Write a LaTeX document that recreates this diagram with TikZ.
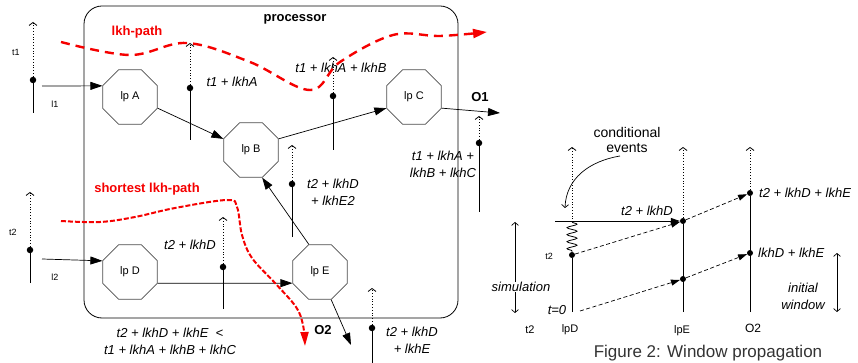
\documentclass[tikz,border=0pt]{standalone}
\usepackage{fontspec}
\setmainfont{Liberation Sans}
\usepackage{tikz}
\usetikzlibrary{arrows.meta}
\usetikzlibrary{shapes.geometric,positioning}
\usetikzlibrary{decorations.pathmorphing}
\definecolor{lkhred}{RGB}{245,0,0}

\begin{document}
\begin{tikzpicture}[x=1pt,y=-1pt,
    lp/.style={draw=black!70,line width=0.7pt,regular polygon,regular polygon sides=8,
      minimum size=59pt,inner sep=0pt,font=\fontsize{11}{13}\selectfont},
    evt/.style={circle,fill=black,inner sep=0pt,minimum size=6.5pt},
    flow/.style={line width=0.7pt,-{Triangle[length=12pt,width=8pt]}},
    msg/.style={line width=0.7pt,dash pattern=on 4pt off 2.5pt,-{Triangle[length=9pt,width=6pt]}},
    future/.style={dotted,line width=0.8pt,-{Straight Barb[length=3pt,width=8pt]}},
    past/.style={line width=0.8pt},
    spanarr/.style={line width=0.7pt,{Straight Barb[length=3pt,width=7pt]}-{Straight Barb[length=3pt,width=7pt]}},
    lkh/.style={lkhred,line width=2.4pt,dash pattern=on 9pt off 6pt,-{Triangle[length=14pt,width=9pt]}},
    lkhshort/.style={lkhred,line width=2pt,dash pattern=on 5pt off 2pt,-{Triangle[length=14pt,width=8pt]}},
    lbl/.style={font=\fontsize{13}{17}\selectfont\itshape,align=center,inner sep=1pt},
    hd/.style={font=\fontsize{13}{15}\selectfont\bfseries,inner sep=1pt},
    tinytxt/.style={font=\fontsize{9}{10}\selectfont,inner sep=1pt},
    tagtxt/.style={font=\fontsize{11}{13}\selectfont,inner sep=1pt}
  ]
  \useasboundingbox (0,0) rectangle (858,363);

  % 处理器框
  \node[draw,line width=0.8pt,rounded corners=18pt,minimum width=374pt,minimum height=312pt] (proc) at (271,162) {};
  \node[hd] (proctitle) at (295,19) {processor};

  % 逻辑进程
  \node[lp] (lpA) at (130,97) {lp A};
  \node[lp] (lpB) at (251,150) {lp B};
  \node[lp] (lpC) at (414,97) {lp C};
  \node[lp] (lpD) at (130,272) {lp D};
  \node[lp] (lpE) at (320,272) {lp E};

  % 时间轴 (虚线向上, 实线向下)
  \foreach \n/\x/\yt/\yd/\yb in {tA/33/22/80/113, tB/30/192/250/283, eA/190/43/88/140,
      eB/333/57/96/150, eC/479/116/143/212, eE/292/145/184/237, eD/223/217/267/309, eO/372/288/328/366} {
    \coordinate (\n top) at (\x,\yt);
    \coordinate (\n bot) at (\x,\yb);
    \node[evt] (\n) at (\x,\yd) {};
    \draw[future] (\n) -- (\n top);
    \draw[past] (\n bot) -- (\n);
  }

  % 连线
  \coordinate (in1) at (42,86);
  \coordinate (in2) at (42,259);
  \coordinate (out1) at (500,113);
  \coordinate (out2) at (351,345);
  \draw[flow] (in1) -- (lpA.158);
  \draw[flow] (in2) -- (lpD.158);
  \draw[flow] (lpA.-22) -- (lpB.158);
  \draw[flow] (lpB.22) -- (lpC.202);
  \draw[flow] (lpE.112) -- (lpB.-68);
  \draw[flow] (lpD.-22) -- (lpE.202);
  \draw[flow] (lpC.-22) -- (out1);
  \draw[flow] (lpE.-68) -- (out2);

  % 标注
  \node[tinytxt] (t1lab) at (16,52) {t1};
  \node[tinytxt] (t2lab) at (13,232) {t2};
  \node[tinytxt] (l1lab) at (55,104) {l1};
  \node[tinytxt] (l2lab) at (55,277) {l2};
  \node[lbl] (labA) at (232,82) {t1 + lkhA};
  \node[lbl] (labB) at (341,68) {t1 + lkhA + lkhB};
  \node[lbl] (labC) at (443,164) {t1 + lkhA +\\lkhB + lkhC};
  \node[lbl] (labE) at (333,192) {t2 + lkhD\\+ lkhE2};
  \node[lbl] (labD) at (190,245) {t2 + lkhD};
  \node[lbl] (labO) at (412,340) {t2 + lkhD\\+ lkhE};
  \node[lbl] (cmp) at (170,341) {t2 + lkhD + lkhE \ <\\t1 + lkhA + lkhB + lkhC};
  \node[hd] (o1lab) at (480,97) {O1};
  \node[hd] (o2lab) at (323,330) {O2};

  % 红色路径
  \node[hd,text=lkhred] (lkhlab) at (137,32) {lkh-path};
  \node[hd,text=lkhred] (shortlab) at (147,189) {shortest lkh-path};
  \draw[lkh] plot[smooth,tension=0.6] coordinates {(61,42) (130,55) (187,43) (250,62) (310,90)
    (340,62) (393,35) (440,36) (487,32)};
  \draw[lkhshort] plot[smooth,tension=0.6] coordinates {(61,221) (100,222) (135,217) (175,208)
    (227,200) (237,207) (242,235) (252,258) (275,283) (296,307) (303,325) (305,346)};

  % 窗口传播
  \node[evt,minimum size=6pt] (rD) at (572,255) {};
  \node[evt,minimum size=6pt] (rE1) at (683,221) {};
  \node[evt,minimum size=6pt] (rE2) at (683,279) {};
  \node[evt,minimum size=6pt] (rO1) at (750,193) {};
  \node[evt,minimum size=6pt] (rO2) at (750,253) {};
  \path (572,147) coordinate (rDtop) (683,147) coordinate (rEtop) (750,147) coordinate (rOtop)
    (572,312) coordinate (rDbot) (683,312) coordinate (rEbot) (750,312) coordinate (rObot)
    (572,222) coordinate (rDcut) (555,221) coordinate (hstart) (580,311) coordinate (t0);
  \draw[future] (rDcut) -- (rDtop);
  \draw[past,decorate,decoration={snake,amplitude=5pt,segment length=7pt}] (rDcut) -- (rD);
  \draw[past] (rDbot) -- (rD);
  \draw[future] (rE1) -- (rEtop);
  \draw[past] (rEbot) -- (rE1);
  \draw[future] (rO1) -- (rOtop);
  \draw[past] (rObot) -- (rO1);
  \draw[past,-{Triangle[length=9pt,width=6pt]}] (hstart) -- (rE1);
  \draw[msg] (rD) -- (rE1);
  \draw[msg] (rE1) -- (rO1);
  \draw[msg] (t0) -- (rE2);
  \draw[msg] (rE2) -- (rO2);

  \node[lbl,anchor=west] (rO1lab) at (758,193) {t2 + lkhD + lkhE};
  \node[lbl,anchor=west] (rO2lab) at (757,253) {lkhD + lkhE};
  \node[lbl] (rDlab) at (647,211) {t2 + lkhD};
  \node[tinytxt] (rt2lab) at (549,256) {t2};
  \node[lbl] (t0lab) at (557,310) {t=0};

  \path (515,222) coordinate (simtop) (515,313) coordinate (simbot)
    (837,253) coordinate (wintop) (837,312) coordinate (winbot);
  \draw[spanarr] (simbot) -- (simtop);
  \node[lbl,fill=white,inner sep=0pt] (simlab) at (521,287) {simulation};
  \draw[spanarr] (wintop) -- (winbot);
  \node[lbl] (winlab) at (803,296) {initial\\window};

  \node[tagtxt] (rt2) at (530,330) {t2};
  \node[tagtxt] (rlpD) at (570,330) {lpD};
  \node[tagtxt] (rlpE) at (682,331) {lpE};
  \node[font=\fontsize{12}{14}\selectfont,inner sep=1pt] (rO2lab2) at (753,328) {O2};

  \node[font=\fontsize{14}{15}\selectfont,align=center] (condlab) at (627,140) {conditional\\events};
  \path (620,156) coordinate (condstart) (565,208) coordinate (condend);
  \draw[line width=0.7pt,-{Straight Barb[length=3pt,width=7pt]}] (condstart) .. controls (590,161) and (566,178) .. (condend);

  \node[font=\fontsize{17}{20}\selectfont,anchor=base,text=black!80] (cap) at (708,357) {Figure 2: Window propagation};
\end{tikzpicture}
\end{document}
